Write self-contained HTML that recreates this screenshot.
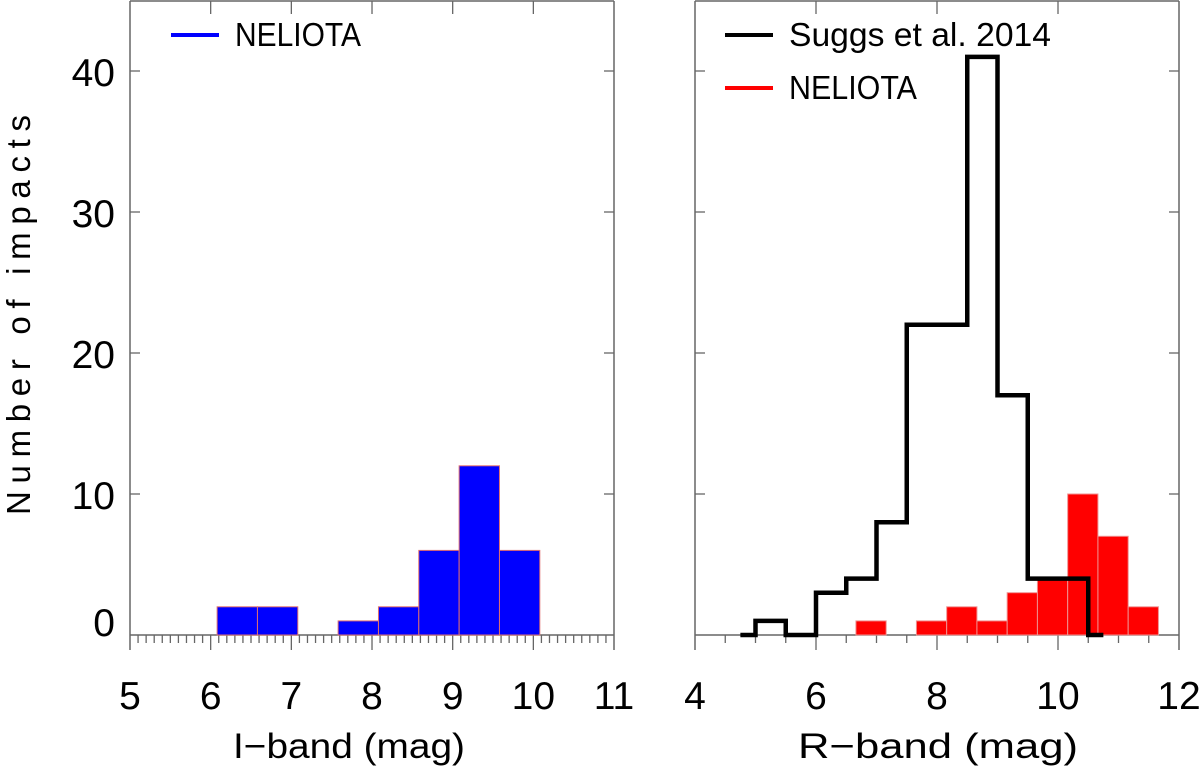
<!DOCTYPE html>
<html><head><meta charset="utf-8"><style>
body{margin:0;background:#fff}
svg text{font-family:"Liberation Sans","DejaVu Sans",sans-serif;fill:#000}
</style></head><body>
<svg id="c" width="1200" height="772" xmlns="http://www.w3.org/2000/svg"></svg>
<script>
// Left panel data (I-band NELIOTA)
const leftBinStart = 6.08;
const leftBinWidth = 0.5;
const leftCounts = [2, 2, 0, 1, 2, 6, 12, 6];
// Right panel: Suggs et al. 2014 step histogram
const suggsEdges = [4.75, 5.0, 5.5, 6.0, 6.5, 7.0, 7.5, 8.0, 8.5, 9.0, 9.5, 10.0, 10.5, 10.75];
const suggsCounts = [0, 1, 0, 3, 4, 8, 22, 22, 41, 17, 4, 4, 0];
// Right panel NELIOTA R-band
const rightBinStart = 6.66;
const rightBinWidth = 0.5;
const rightCounts = [1, 0, 1, 2, 1, 3, 4, 10, 7, 2];
const yTicks = [0, 10, 20, 30, 40];
const leftXTicks = [5, 6, 7, 8, 9, 10, 11];
const rightXTicks = [4, 6, 8, 10, 12];

const svg = document.getElementById('c');
const NS = 'http://www.w3.org/2000/svg';
function mk(tag, attrs, parent) {
  const e = document.createElementNS(NS, tag);
  for (const k in attrs) e.setAttribute(k, attrs[k]);
  (parent || svg).appendChild(e);
  return e;
}
const Y0 = 635, TOP = 1;
const y = v => Y0 - v * 14.1;
const xL = v => 130 + (v - 5) * 80.67;
const xR = v => 695 + (v - 4) * 60.5;
const AX = '#666';

function panel(name, x0, x1, xs, xmin, xmax, minorStep, majors, topMajors, labelYTicks) {
  const g = mk('g', {});
  
  
  mk('line', {x1: x0, y1: TOP, x2: x0, y2: 650, stroke: AX, 'stroke-width': 1.5}, g);
  mk('line', {x1: x1, y1: TOP, x2: x1, y2: 650, stroke: AX, 'stroke-width': 1.5}, g);
  mk('line', {x1: x0, y1: TOP, x2: x1, y2: TOP, stroke: AX, 'stroke-width': 1.5}, g);
  mk('line', {x1: x0, y1: Y0, x2: x1, y2: Y0, stroke: AX, 'stroke-width': 1.5}, g);
  const n = Math.round((xmax - xmin) / minorStep);
  for (let i = 1; i < n; i++) {
    const v = xmin + i * minorStep;
    const isMaj = majors.some(m => Math.abs(m - v) < 1e-6);
    mk('line', {x1: xs(v), y1: Y0, x2: xs(v), y2: isMaj ? 650 : 643, stroke: AX, 'stroke-width': 1.3}, g);
  }
  majors.forEach(m => {
    const t = mk('text', {x: xs(m), y: 709, 'font-size': 39, 'text-anchor': 'middle'}, g);
    t.textContent = m;
    
    
  });
  topMajors.forEach(m => mk('line', {x1: xs(m), y1: TOP, x2: xs(m), y2: 14, stroke: AX, 'stroke-width': 1.3}, g));
  yTicks.forEach(v => {
    if (v === 0) return;
    mk('line', {x1: x0, y1: y(v), x2: x0 + 10, y2: y(v), stroke: AX, 'stroke-width': 1.3}, g);
    mk('line', {x1: x1, y1: y(v), x2: x1 - 10, y2: y(v), stroke: AX, 'stroke-width': 1.3}, g);
  });
  if (labelYTicks) {
    yTicks.forEach(v => {
      const t = mk('text', {x: 115, y: v === 0 ? 636 : y(v) + 15, 'font-size': 39, 'text-anchor': 'end'}, g);
      t.textContent = v;
      
      
    });
  }
  return g;
}

panel('left-panel', 130, 614, xL, 5, 11, 0.1, leftXTicks, [6, 7, 8, 9, 10], true);
panel('right-panel', 695, 1179, xR, 4, 12, 0.5, rightXTicks, [6, 8, 10], false);

leftCounts.forEach((c, i) => {
  if (!c) return;
  const a = leftBinStart + i * leftBinWidth, b = a + leftBinWidth;
  const r = mk('rect', {x: xL(a), y: y(c), width: xL(b) - xL(a), height: Y0 - y(c), fill: '#0000ff', stroke: '#e07070', 'stroke-width': 1});
  
  
});
rightCounts.forEach((c, i) => {
  if (!c) return;
  const a = rightBinStart + i * rightBinWidth, b = a + rightBinWidth;
  const r = mk('rect', {x: xR(a), y: y(c), width: xR(b) - xR(a), height: Y0 - y(c), fill: '#ff0000', stroke: '#f09090', 'stroke-width': 1});
  
  
});
let d = '';
suggsCounts.forEach((c, i) => {
  d += (i === 0 ? 'M' : 'L') + xR(suggsEdges[i]) + ',' + y(c) + 'L' + xR(suggsEdges[i + 1]) + ',' + y(c);
});
const p = mk('path', {d: d, fill: 'none', stroke: '#000', 'stroke-width': 4.5, 'stroke-linejoin': 'miter'});



function legend(x, yy, color, label, name, len) {
  const g = mk('g', {});
  
  
  mk('line', {x1: x, y1: yy, x2: x + 48, y2: yy, stroke: color, 'stroke-width': 4}, g);
  const t = mk('text', {x: x + 64, y: yy + 11, 'font-size': 33, textLength: len, lengthAdjust: 'spacingAndGlyphs'}, g);
  t.textContent = label;
}
legend(171, 35, '#0000ff', 'NELIOTA', 'legend-neliota-i', 126);
legend(725, 35, '#000', 'Suggs et al. 2014', 'legend-suggs', 262);
legend(725, 88, '#ff0000', 'NELIOTA', 'legend-neliota-r', 128);

let t = mk('text', {x: 233, y: 758, 'font-size': 35, textLength: 232, lengthAdjust: 'spacingAndGlyphs'});
t.textContent = 'I\u2212band (mag)';


t = mk('text', {x: 798, y: 758, 'font-size': 35, textLength: 280, lengthAdjust: 'spacingAndGlyphs'});
t.textContent = 'R\u2212band (mag)';


t = mk('text', {x: 0, y: 0, 'font-size': 33, 'text-anchor': 'middle', textLength: 400, lengthAdjust: 'spacing', transform: 'translate(30,315) rotate(-90)'});
t.textContent = 'Number of impacts';


</script>
</body></html>
